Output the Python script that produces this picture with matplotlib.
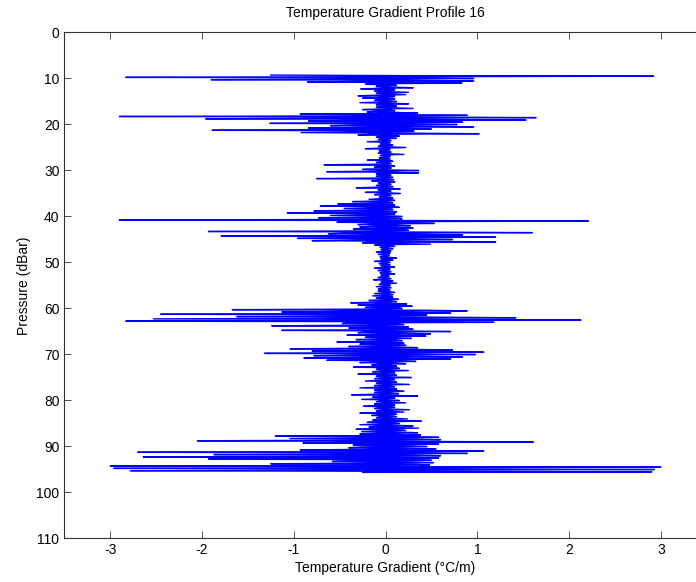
import numpy as np
import matplotlib.pyplot as plt

plt.rcParams['font.family'] = ['Liberation Sans', 'DejaVu Sans']
plt.rcParams['axes.unicode_minus'] = False

# sampling of the profile: first pressure and step (dBar)
p_start = 9.3
p_step = 0.125

# temperature gradient (degC/m), one row per dBar:
# the outer excursions ...
spike_rows = [
    [-1.25, 2.92, -2.83, 0.96],   # 9.3
    [-1.90, 0.96, -0.85, 0.83],   # 10.3
    [-0.22, 0.12, -0.10, 0.30],
    [-0.27, 0.10, -0.12, 0.25],
    [-0.10, 0.22, -0.30, 0.08],
    [-0.25, 0.10, -0.12, 0.12],
    [-0.28, 0.25, -0.10, 0.12],   # 15.3
    [-0.10, 0.30, -0.25, 0.10],
    [-0.20, 0.35, -0.93, 0.89],
    [-2.90, 1.64, -1.96, 1.53],
    [-0.84, 0.84, -1.26, 0.78],
    [-0.60, 0.96, -0.84, 0.50],   # 20.3
    [-1.89, 0.31, -0.92, 1.02],
    [-0.30, 0.15, -0.10, 0.12],
    [-0.08, 0.06, -0.20, 0.05],
    [-0.06, 0.08, -0.08, 0.22],
    [-0.22, 0.05, -0.07, 0.06],   # 25.3
    [-0.08, 0.20, -0.06, 0.05],
    [-0.07, 0.05, -0.20, 0.08],
    [-0.10, 0.06, -0.67, 0.10],
    [-0.12, 0.06, -0.25, 0.36],
    [-0.64, 0.36, -0.10, 0.06],   # 30.3
    [-0.10, 0.08, -0.75, 0.09],
    [-0.15, 0.10, -0.08, 0.06],
    [-0.10, 0.08, -0.32, 0.16],
    [-0.08, 0.06, -0.22, 0.16],
    [-0.12, 0.06, -0.07, 0.08],   # 35.3
    [-0.18, 0.10, -0.36, 0.08],
    [-0.52, 0.10, -0.71, 0.15],
    [-0.45, 0.08, -0.78, 0.12],
    [-1.07, 0.10, -0.60, 0.18],
    [-0.73, 0.18, -2.90, 2.21],   # 40.3
    [-0.53, 0.53, -0.30, 0.27],
    [-0.28, 0.30, -0.35, 0.25],
    [-1.93, 1.60, -0.62, 0.84],
    [-1.79, 1.20, -0.96, 0.73],
    [-0.80, 1.20, -0.25, 0.49],   # 45.3
    [-0.12, 0.10, -0.06, 0.08],
    [-0.05, 0.06, -0.10, 0.05],
    [-0.08, 0.04, -0.06, 0.12],
    [-0.05, 0.08, -0.12, 0.05],
    [-0.07, 0.05, -0.05, 0.10],   # 50.3
    [-0.12, 0.05, -0.08, 0.06],
    [-0.06, 0.10, -0.05, 0.04],
    [-0.08, 0.06, -0.13, 0.08],
    [-0.05, 0.12, -0.07, 0.05],
    [-0.10, 0.06, -0.08, 0.05],   # 55.3
    [-0.08, 0.10, -0.12, 0.08],
    [-0.14, 0.08, -0.10, 0.14],
    [-0.18, 0.12, -0.38, 0.23],
    [-0.30, 0.29, -0.22, 0.18],
    [-1.67, 0.89, -1.13, 0.71],   # 60.3
    [-2.45, 0.44, -1.62, 1.42],
    [-2.53, 2.13, -2.83, 1.18],
    [-0.47, 0.20, -1.24, 0.25],
    [-0.40, 0.30, -1.13, 0.71],
    [-0.30, 0.49, -0.42, 0.44],   # 65.3
    [-0.22, 0.28, -0.32, 0.18],
    [-0.53, 0.20, -0.28, 0.22],
    [-0.40, 0.35, -1.04, 0.73],
    [-0.80, 1.07, -1.32, 0.98],
    [-0.78, 0.84, -0.89, 0.71],   # 70.3
    [-0.64, 0.33, -0.28, 0.22],
    [-0.15, 0.12, -0.35, 0.15],
    [-0.10, 0.25, -0.14, 0.10],
    [-0.30, 0.12, -0.10, 0.28],
    [-0.12, 0.10, -0.22, 0.12],   # 75.3
    [-0.10, 0.26, -0.12, 0.10],
    [-0.28, 0.12, -0.12, 0.20],
    [-0.12, 0.14, -0.37, 0.35],
    [-0.14, 0.10, -0.26, 0.15],
    [-0.10, 0.22, -0.12, 0.10],   # 80.3
    [-0.24, 0.10, -0.12, 0.26],
    [-0.10, 0.20, -0.28, 0.12],
    [-0.15, 0.12, -0.10, 0.24],
    [-0.14, 0.39, -0.20, 0.15],
    [-0.28, 0.30, -0.18, 0.36],   # 85.3
    [-0.32, 0.22, -0.26, 0.35],
    [-0.28, 0.38, -1.20, 0.58],
    [-1.04, 0.60, -2.05, 1.61],
    [-0.90, 0.58, -0.35, 0.45],
    [-0.40, 0.55, -0.93, 1.07],   # 90.3
    [-2.70, 0.89, -1.87, 0.60],
    [-2.64, 0.58, -1.93, 0.50],
    [-0.58, 0.52, -1.25, 0.48],
    [-3.00, 3.00, -2.96, 2.93],
    [-2.78, 2.90],                # 95.3
]

# ... and the small values of the dense core between them
core_rows = [
    [0.30, -0.45, 0.40, -0.30],   # 9.3
    [0.20, -0.18, 0.15, -0.10],   # 10.3
    [0.08, -0.10, 0.06, -0.08],
    [0.10, -0.06, 0.07, -0.09],
    [0.06, -0.08, 0.10, -0.05],
    [0.09, -0.07, 0.06, -0.10],
    [0.07, -0.09, 0.08, -0.06],   # 15.3
    [0.10, -0.07, 0.06, -0.12],
    [0.12, -0.15, 0.20, -0.30],
    [0.45, -0.50, 0.35, -0.42],
    [0.30, -0.40, 0.45, -0.35],
    [0.38, -0.30, 0.25, -0.40],   # 20.3
    [0.30, -0.28, 0.22, -0.15],
    [0.06, -0.05, 0.04, -0.06],
    [0.04, -0.06, 0.05, -0.04],
    [0.05, -0.04, 0.06, -0.05],
    [0.04, -0.05, 0.04, -0.06],   # 25.3
    [0.06, -0.04, 0.05, -0.04],
    [0.04, -0.06, 0.05, -0.05],
    [0.05, -0.04, 0.06, -0.06],
    [0.06, -0.05, 0.04, -0.05],
    [0.05, -0.06, 0.05, -0.04],   # 30.3
    [0.04, -0.05, 0.06, -0.05],
    [0.06, -0.04, 0.04, -0.06],
    [0.05, -0.06, 0.05, -0.04],
    [0.04, -0.05, 0.06, -0.05],
    [0.05, -0.06, 0.04, -0.05],   # 35.3
    [0.06, -0.08, 0.05, -0.10],
    [0.08, -0.15, 0.06, -0.18],
    [0.07, -0.20, 0.08, -0.15],
    [0.10, -0.22, 0.08, -0.15],
    [0.15, -0.20, 0.35, -0.40],   # 40.3
    [0.20, -0.18, 0.12, -0.15],
    [0.15, -0.12, 0.18, -0.14],
    [0.40, -0.45, 0.30, -0.35],
    [0.35, -0.40, 0.30, -0.30],
    [0.25, -0.20, 0.10, -0.08],   # 45.3
    [0.04, -0.05, 0.03, -0.04],
    [0.03, -0.04, 0.05, -0.03],
    [0.04, -0.03, 0.04, -0.05],
    [0.05, -0.04, 0.03, -0.04],
    [0.03, -0.05, 0.04, -0.03],   # 50.3
    [0.04, -0.03, 0.05, -0.04],
    [0.05, -0.04, 0.03, -0.05],
    [0.03, -0.05, 0.04, -0.04],
    [0.04, -0.03, 0.05, -0.03],
    [0.05, -0.04, 0.04, -0.05],   # 55.3
    [0.04, -0.05, 0.05, -0.04],
    [0.06, -0.05, 0.06, -0.06],
    [0.08, -0.10, 0.07, -0.09],
    [0.10, -0.12, 0.15, -0.20],
    [0.40, -0.45, 0.35, -0.40],   # 60.3
    [0.45, -0.40, 0.50, -0.45],
    [0.40, -0.50, 0.35, -0.40],
    [0.15, -0.20, 0.12, -0.18],
    [0.18, -0.15, 0.20, -0.22],
    [0.15, -0.12, 0.14, -0.15],   # 65.3
    [0.10, -0.12, 0.12, -0.10],
    [0.12, -0.10, 0.10, -0.14],
    [0.15, -0.20, 0.25, -0.22],
    [0.30, -0.35, 0.28, -0.30],
    [0.25, -0.28, 0.22, -0.20],   # 70.3
    [0.15, -0.12, 0.10, -0.08],
    [0.07, -0.08, 0.06, -0.09],
    [0.08, -0.07, 0.09, -0.06],
    [0.06, -0.09, 0.07, -0.08],
    [0.09, -0.06, 0.08, -0.07],   # 75.3
    [0.07, -0.08, 0.06, -0.09],
    [0.08, -0.07, 0.09, -0.08],
    [0.06, -0.09, 0.07, -0.06],
    [0.09, -0.08, 0.06, -0.07],
    [0.07, -0.06, 0.08, -0.09],   # 80.3
    [0.08, -0.09, 0.07, -0.06],
    [0.06, -0.07, 0.09, -0.08],
    [0.09, -0.08, 0.06, -0.09],
    [0.08, -0.10, 0.09, -0.08],
    [0.10, -0.12, 0.11, -0.10],   # 85.3
    [0.12, -0.10, 0.14, -0.12],
    [0.15, -0.18, 0.25, -0.30],
    [0.35, -0.40, 0.30, -0.45],
    [0.30, -0.35, 0.28, -0.25],
    [0.25, -0.30, 0.35, -0.30],   # 90.3
    [0.40, -0.35, 0.30, -0.40],
    [0.35, -0.40, 0.30, -0.35],
    [0.30, -0.25, 0.35, -0.30],
    [0.45, -0.50, 0.40, -0.45],
    [0.30, -0.25],                # 95.3
]

spikes = np.concatenate([np.array(r) for r in spike_rows])
core = np.concatenate([np.array(r) for r in core_rows])
grad = np.column_stack([spikes, core]).ravel()
pressure = p_start + p_step * np.arange(len(grad))

fig = plt.figure(figsize=(6.96, 5.82), dpi=100)
ax = fig.add_axes([64.3 / 696, 1 - 538.3 / 582, 642.5 / 696, 506 / 582])

ax.plot(grad, pressure, color='#0000ff', linewidth=1.0)

ax.set_xlim(-3.5, 3.5)
ax.set_ylim(110, 0)
ax.set_xticks(np.arange(-3, 4, 1))
ax.set_yticks(np.arange(0, 111, 10))

ax.tick_params(direction='in', length=5, width=0.6, colors='#333333',
               labelcolor='black', labelsize=10, top=True, right=True)
for s in ax.spines.values():
    s.set_color('#333333')
    s.set_linewidth(0.8)

ax.set_title('Temperature Gradient Profile 16', fontsize=10, pad=11)
ax.set_xlabel('Temperature Gradient (°C/m)', fontsize=10, labelpad=3)
ax.set_ylabel('Pressure (dBar)', fontsize=10, labelpad=4)

fig.savefig('out.png', dpi=100)
